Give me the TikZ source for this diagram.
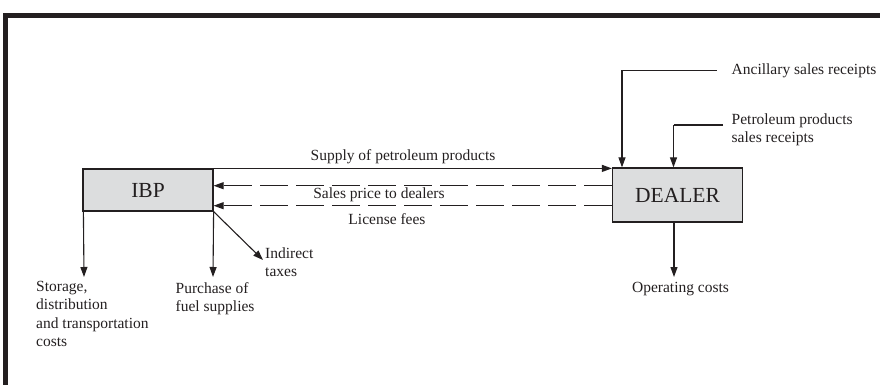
\documentclass[tikz,border=0pt]{standalone}
\usepackage{fontspec}
\setmainfont{Liberation Serif}
\usetikzlibrary{arrows.meta}
\definecolor{ink}{HTML}{231F20}
\definecolor{boxfill}{HTML}{DCDDDE}
\begin{document}
\begin{tikzpicture}[x=1pt,y=-1pt,
  every node/.style={text=ink,font=\fontsize{15.5}{18.5}\selectfont},
  entity/.style={draw=ink,line width=1.2pt,fill=boxfill,inner sep=0pt,minimum width=130pt,
    font=\fontsize{21.5}{24}\selectfont},
  flow/.style={draw=ink,line width=1.1pt,-{Triangle[length=10pt,width=7pt]}},
  dflow/.style={flow,dash pattern=on 28pt off 8pt},
  plain/.style={draw=ink,line width=1.1pt},
  lbl/.style={inner sep=0pt,align=left},
  frame/.style={draw=ink,line width=4.5pt}]
\useasboundingbox (0,0) rectangle (880,385);
% frame (top and left only)
\draw[frame] (5.5,385) -- (5.5,15.5) -- (880,15.5);
% boxes
\node[entity,minimum height=42pt] (ibp) at (148,190) {IBP};
\node[entity,minimum height=54pt] (dealer) at (677.5,195) {DEALER};
% flows between
\coordinate (y1) at (0,185.7);
\coordinate (y2) at (0,205.7);
\draw[flow] (ibp.north east) -- (ibp.north east -| dealer.west);
\draw[dflow] (dealer.west |- y1) -- (ibp.east |- y1);
\draw[dflow] (dealer.west |- y2) -- (ibp.east |- y2);
\node[inner sep=0pt] (supply) at (403,156.5) {Supply of petroleum products};
\node[inner sep=0pt] (spd) at (379,195) {Sales price to dealers};
\node[inner sep=0pt] (lic) at (387,219) {License fees};
% dealer inputs
\node[lbl,anchor=west] (anc) at (731.5,70.5) {Ancillary sales receipts};
\node[lbl,anchor=north west] (ppr) at (731.5,113.5) {Petroleum products\\sales receipts};
\coordinate (ancc) at (622,70.5);
\coordinate (pprc) at (673.5,125);
\draw[plain] (anc.west) ++(-15,0) coordinate (ancs) -- (ancc);
\draw[flow] (ancc) -- (ancc |- dealer.north);
\draw[plain] (723,125) coordinate (pprs) -- (pprc);
\draw[flow] (pprc) -- (pprc |- dealer.north);
% dealer output
\coordinate (opend) at (674,277);
\draw[flow] (opend |- dealer.south) -- (opend);
\node[lbl,anchor=north] (op) at (680.5,282) {Operating costs};
% ibp outputs
\coordinate (stend) at (84,277);
\coordinate (puend) at (213,277);
\coordinate (itend) at (263,260);
\draw[flow] (ibp.south west) ++(1,0) -- (stend);
\draw[flow] (ibp.south east) -- (puend);
\draw[flow] (ibp.south east) -- (itend);
\node[lbl,anchor=north west] (st) at (36,281) {Storage,\\distribution\\and transportation\\costs};
\node[lbl,anchor=north west] (pu) at (175.5,282) {Purchase of\\fuel supplies};
\node[lbl,anchor=north west] (it) at (265,247.5) {Indirect\\taxes};
\end{tikzpicture}
\end{document}
